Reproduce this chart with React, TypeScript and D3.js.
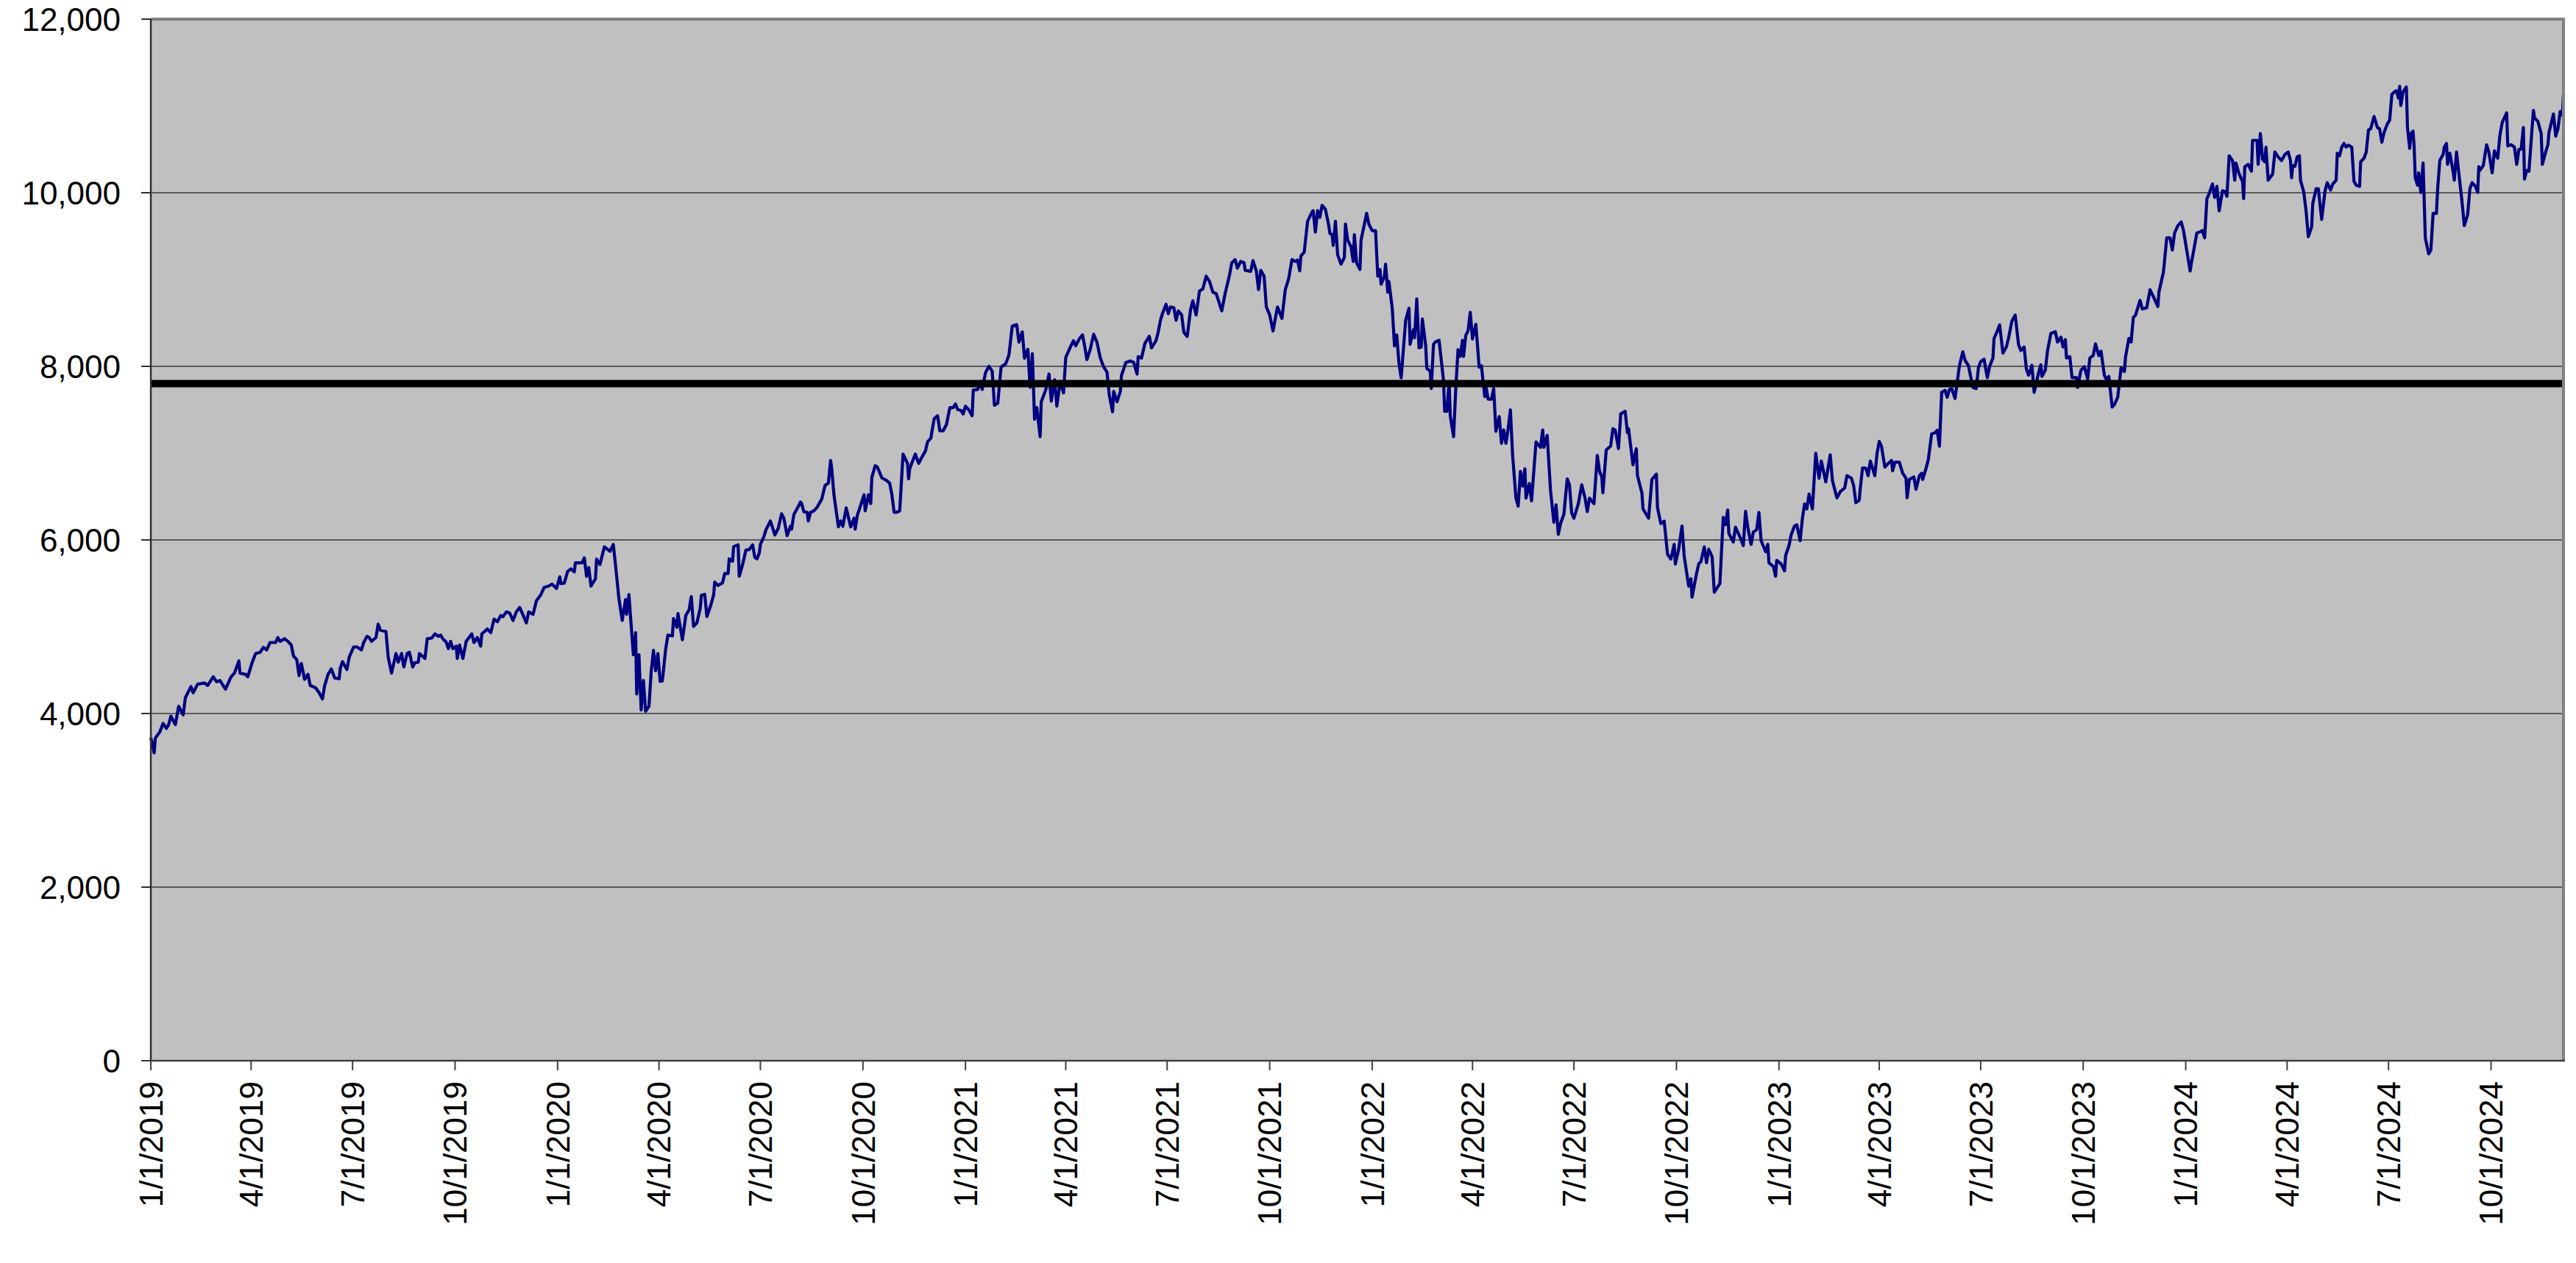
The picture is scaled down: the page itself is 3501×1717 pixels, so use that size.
import { useEffect, useRef } from 'react';
import * as d3 from 'd3';

// x positions are days after 1/1/2019
const startDate = new Date(2019, 0, 1);

const dayOffsets = [
  0, 3, 4, 8, 11, 14, 16, 18, 22, 25, 29, 31, 36, 38, 42, 48, 51, 56, 59, 62, 67, 72, 75, 79, 80, 85, 87, 91, 94, 98,
  101, 104, 107, 112, 114, 116, 120, 123, 126, 128, 131, 133, 135, 138, 141, 143, 148, 151, 154, 156, 159, 162, 165, 169, 170, 172, 176, 178, 182, 185,
  189, 191, 194, 196, 198, 202, 204, 206, 211, 213, 216, 220, 222, 225, 227, 230, 232, 235, 237, 240, 241, 246, 248, 252, 255, 258, 260, 262, 265, 267,
  269, 271, 274, 275, 277, 280, 283, 288, 290, 293, 296, 297, 302, 305, 308, 311, 314, 316, 319, 322, 325, 328, 331, 334, 337, 339, 343, 346, 350, 353,
  357, 360, 364, 367, 368, 371, 374, 377, 380, 381, 387, 389, 391, 393, 395, 399, 400, 403, 407, 412, 415, 417, 420, 423, 426, 427, 429, 433, 435, 436,
  438, 440, 442, 444, 447, 449, 451, 453, 455, 457,
  459, 462, 464, 468, 469, 472, 473, 477, 479, 480, 483, 485, 487, 490, 493, 494, 497, 499, 502, 505, 506, 509, 513, 515, 518, 519, 522, 523, 527, 528,
  531, 534, 537, 540, 542, 544, 546, 547, 550, 552, 556, 560, 563, 566, 568, 571, 574, 575, 577, 581, 583, 584, 586, 589, 590, 592, 595, 598, 602, 605,
  608, 610, 611, 613, 617, 619, 621, 624, 628, 631, 632, 634, 637, 640, 641, 644, 646, 647, 650, 652, 656, 660, 663, 665, 667, 669, 672, 675, 679, 680,
  681, 686, 689, 692, 695, 697, 700, 701, 703, 706, 708, 711, 714, 717, 720, 722, 724, 727, 729, 731, 734, 737, 738, 742, 745, 746, 749, 752, 755, 757,
  760, 763, 767, 770, 773, 777, 779, 782, 784, 787, 789, 791, 793, 795, 798, 799, 803, 806, 808, 811, 813, 816, 819, 821, 826, 828, 830, 833, 836, 838,
  840, 843, 846, 849, 852, 855, 858, 860, 863, 864, 867, 870, 871, 875, 879, 882, 885, 886, 889, 892, 896, 898, 902, 904, 906, 908,
  911, 913, 915, 918, 920, 922, 925, 927, 930, 933, 935, 938, 941, 944, 947, 950, 953, 956, 961, 964, 968, 970, 973, 975, 978, 981, 982, 987, 989, 992,
  994, 996, 999, 1001, 1004, 1007, 1011, 1015, 1018, 1021, 1024, 1027, 1029, 1031, 1032, 1035, 1038, 1042, 1043, 1045, 1047, 1049, 1051, 1054, 1057, 1058, 1060, 1061, 1063, 1065,
  1068, 1071, 1072, 1074, 1077, 1079, 1080, 1082, 1085, 1086, 1089, 1091, 1093, 1096, 1099, 1101, 1103, 1104, 1107, 1108, 1110, 1111, 1114, 1116, 1118, 1120, 1122, 1126, 1129, 1130,
  1133, 1134, 1136, 1138, 1140, 1141, 1144, 1145, 1148, 1149, 1151, 1153, 1156, 1158, 1160, 1161, 1163, 1165, 1166, 1169, 1171, 1173, 1175, 1177, 1178, 1180, 1182, 1184, 1186, 1189,
  1192, 1194, 1197, 1198, 1200, 1203, 1205, 1207, 1210, 1212, 1214, 1216, 1218, 1220, 1222, 1225, 1227, 1229, 1231, 1233, 1234, 1237, 1239, 1243, 1247, 1249, 1250, 1253, 1256, 1259,
  1261, 1263, 1265, 1268, 1271, 1273, 1275, 1277, 1281, 1284, 1287, 1289, 1291, 1295, 1298, 1300, 1302, 1303, 1306, 1310, 1312, 1314, 1317, 1319, 1323, 1325, 1326, 1330, 1333, 1334,
  1338, 1339, 1344, 1347, 1351, 1352, 1355,
  1358, 1361, 1364, 1367, 1368, 1371, 1374, 1376, 1378, 1380, 1382, 1383, 1387, 1389, 1391, 1394, 1396, 1398, 1401, 1403, 1405, 1408, 1411, 1413, 1415, 1416, 1420, 1422, 1426, 1429,
  1431, 1433, 1436, 1438, 1441, 1443, 1445, 1449, 1451, 1452, 1456, 1458, 1459, 1463, 1466, 1467, 1470, 1472, 1475, 1477, 1480, 1482, 1484, 1486, 1488, 1491, 1494, 1497, 1499, 1503,
  1505, 1507, 1509, 1513, 1516, 1520, 1522, 1526, 1528, 1530, 1533, 1534, 1536, 1539, 1541, 1543, 1547, 1549, 1551, 1553, 1556, 1559, 1562, 1563, 1565, 1569, 1572, 1575, 1576, 1578,
  1582, 1584, 1587, 1589, 1590, 1593, 1595, 1598, 1601, 1603, 1605, 1607, 1610, 1612, 1614, 1616, 1619, 1620, 1623, 1626, 1628, 1631, 1633, 1635, 1638, 1640, 1642, 1645, 1648, 1650,
  1653, 1654, 1657, 1659, 1662, 1665, 1667, 1670, 1673, 1676, 1678, 1681, 1683, 1685, 1688, 1690, 1692, 1694, 1696, 1697, 1700, 1702, 1705, 1709, 1711, 1714, 1716, 1718, 1719, 1722,
  1724, 1728, 1729, 1732, 1735, 1738, 1740, 1743, 1745, 1748, 1750, 1753, 1755, 1757, 1760, 1762, 1765, 1768, 1771, 1772, 1775, 1777, 1779, 1781, 1785, 1787, 1791, 1794, 1797, 1801,
  1802, 1806, 1809, 1812, 1814, 1816, 1819, 1822, 1824, 1828, 1830, 1831, 1834, 1836, 1839, 1841, 1843, 1845, 1847, 1850, 1852, 1854, 1856, 1859, 1861, 1863, 1865, 1868, 1870, 1871,
  1874, 1877, 1878, 1879, 1882, 1885, 1886, 1890, 1891, 1893, 1895, 1897, 1898, 1900, 1904, 1906, 1909, 1912, 1915, 1918, 1920, 1921, 1922, 1924, 1926, 1928, 1929, 1932, 1934, 1936,
  1939, 1940, 1943, 1945, 1948, 1951, 1953, 1956, 1958, 1961, 1962, 1964, 1966, 1968, 1970, 1972, 1975, 1977, 1979, 1982, 1983, 1986, 1988, 1990, 1992, 1995, 1998, 2000, 2002, 2004,
  2007, 2009, 2011, 2014, 2015, 2017, 2018, 2019, 2021, 2024, 2025, 2027, 2028, 2030, 2031, 2032, 2034, 2035, 2037, 2039, 2041, 2044, 2046, 2048, 2051, 2052, 2054, 2057, 2058, 2060,
  2061, 2063, 2066, 2067, 2069, 2072, 2074, 2076, 2079, 2081, 2083, 2086, 2088, 2089, 2090, 2093, 2096, 2098, 2101, 2103, 2106, 2108, 2110, 2114, 2115, 2118, 2121, 2123, 2125, 2127,
  2129, 2130, 2132, 2134, 2138, 2139, 2142, 2145, 2146, 2149, 2151, 2152, 2156, 2158, 2160, 2162, 2164, 2165,
];

const indexValues = [
  3720, 3547, 3716, 3787, 3886, 3829, 3872, 3970, 3872, 4083, 3985, 4182, 4310, 4239, 4338, 4352, 4324, 4423, 4366, 4380, 4281, 4423, 4465, 4606, 4465, 4451, 4423, 4592, 4691, 4705,
  4762, 4733, 4818, 4818, 4875, 4832, 4861, 4832, 4790, 4663, 4620, 4437, 4578, 4394, 4451, 4324, 4295, 4239, 4168, 4324, 4451, 4513, 4409, 4400, 4521, 4598, 4507, 4649, 4767, 4767,
  4733, 4818, 4889, 4875, 4832, 4875, 5030, 4960, 4945, 4649, 4465, 4691, 4592, 4691, 4536, 4691, 4705, 4536, 4586, 4592, 4691, 4635, 4861, 4869, 4917, 4889, 4903, 4861, 4824, 4748,
  4832, 4748, 4776, 4635, 4790, 4635, 4832, 4917, 4818, 4875, 4776, 4917, 4974, 4931, 5087, 5058, 5129, 5115, 5171, 5157, 5072, 5171, 5222, 5135, 5044, 5171, 5143, 5299, 5369, 5454,
  5468, 5491, 5440, 5575, 5496, 5502, 5637, 5666, 5632, 5736, 5736, 5793, 5581, 5680, 5468, 5553, 5779, 5717, 5920, 5869, 5948, 5708, 5327, 5072, 5313, 5143, 5369, 4677, 4931, 4225,
  4677, 4041, 4380, 4027, 4084, 4479, 4728, 4493, 4691, 4372,
  4374, 4743, 4904, 4894, 5095, 4994, 5152, 4850, 5028, 5128, 5195, 5346, 5004, 5045, 5212, 5363, 5373, 5118, 5229, 5363, 5514, 5474, 5507, 5614, 5614, 5782, 5755, 5923, 5943, 5581,
  5715, 5883, 5889, 5943, 5799, 5782, 5849, 5950, 6033, 6117, 6218, 6057, 6134, 6302, 6251, 6050, 6157, 6124, 6292, 6385, 6436, 6419, 6325, 6318, 6218, 6318, 6335, 6379, 6469, 6627,
  6654, 6915, 6821, 6520, 6151, 6218, 6157, 6369, 6151, 6251, 6124, 6285, 6402, 6520, 6335, 6520, 6419, 6721, 6855, 6838, 6714, 6687, 6654, 6520, 6318, 6318, 6335, 6989, 6882, 6704,
  6821, 6989, 6882, 6955, 7022, 7130, 7173, 7257, 7398, 7431, 7257, 7257, 7331, 7525, 7525, 7565, 7502, 7492, 7451, 7542, 7498, 7431, 7726, 7733, 7827, 7733, 7927, 8001, 7944, 7552,
  7575, 7994, 8028, 8128, 8464, 8480, 8279, 8397, 8095, 8196, 7760, 8145, 7391, 7525, 7190, 7592, 7726, 7911, 7599, 7844, 7542, 7827, 7693, 8102, 8246, 8296, 8236, 8313, 8363, 8229,
  8078, 8196, 8370, 8279, 8095, 7994, 7934, 7676, 7475, 7710, 7592, 7710, 7894, 8045, 8061, 8045, 7911, 8112, 8095, 8263, 8346, 8212, 8296, 8397, 8531, 8615,
  8715, 8607, 8684, 8675, 8530, 8638, 8592, 8391, 8345, 8653, 8755, 8592, 8869, 8891, 9038, 8977, 8854, 8838, 8638, 8838, 9054, 9193, 9230, 9131, 9208, 9193, 9106, 9094, 9217, 9100,
  8884, 9106, 9038, 8684, 8592, 8407, 8684, 8552, 8884, 9008, 9230, 9208, 9223, 9100, 9270, 9316, 9670, 9778, 9793, 9547, 9793, 9716, 9855, 9809, 9624, 9532, 9516, 9393, 9670, 9285,
  9177, 9254, 9639, 9455, 9377, 9208, 9516, 9193, 9116, 9455, 9639, 9763, 9639, 9562, 9562, 9038, 9116, 8946, 9038, 9177, 8854, 8977, 8669, 8237, 8361, 8037, 7868, 8530, 8669, 8253,
  8422, 8330, 8777, 8213, 8222, 8545, 8237, 7975, 7945, 7744, 8253, 8284, 8299, 8068, 7837, 7482, 7482, 7821, 7436, 7190, 7744, 8191, 8114, 8299, 8114, 8361, 8407, 8622, 8315, 8484,
  7991, 8006, 7652, 7775, 7621, 7621, 7744, 7251, 7421, 7113, 7267, 7113, 7282, 7498, 6974, 6481, 6389, 6789, 6620, 6820, 6481, 6650, 6450, 7128, 7067, 7267, 7067, 7205, 6573, 6204,
  6404, 6065, 6188, 6296, 6703, 6635, 6311, 6250, 6419, 6635, 6481, 6327, 6481, 6419, 6974, 6789, 6728, 6543, 7036, 7082, 7282, 7267, 7051, 7452, 7482, 7236, 7282, 6866, 7051, 6743,
  6543, 6358, 6250, 6697, 6758, 6373, 6188,
  6217, 5836, 5779, 5949, 5723, 5892, 6161, 5807, 5638, 5468, 5553, 5341, 5610, 5723, 5751, 5920, 5737, 5892, 5807, 5398, 5440, 5497, 6259, 6175, 6344, 6076, 5977, 6147, 6033, 5934,
  6330, 6147, 5949, 6090, 6118, 6316, 5991, 5864, 5949, 5737, 5694, 5581, 5765, 5723, 5643, 5822, 5934, 6062, 6161, 6175, 5991, 6245, 6415, 6358, 6528, 6358, 6999, 6711, 6909, 6669,
  6825, 6980, 6683, 6485, 6556, 6598, 6740, 6712, 6627, 6429, 6457, 6598, 6830, 6825, 6740, 6909, 6740, 6994, 7135, 7079, 6839, 6881, 6915, 6796, 6895, 6895, 6768, 6712, 6485, 6697,
  6726, 6584, 6740, 6768, 6697, 6825, 6924, 7220, 7234, 7263, 7079, 7700, 7723, 7644, 7734, 7743, 7630, 7729, 8011, 8167, 8068, 8011, 7884, 7757, 7743, 7983, 8054, 8082, 7870, 7997,
  8096, 8322, 8407, 8478, 8153, 8223, 8322, 8520, 8590, 8251, 8181, 8223, 7969, 7898, 8011, 7700, 7813, 7926, 8017, 7884, 7955, 8181, 8379, 8398, 8280, 8336, 8223, 8308, 8096, 8110,
  7870, 7870, 7757, 7955, 7997, 7856, 8096, 8124, 8260, 8124, 8175, 7898, 7842, 7884, 7531, 7559, 7644, 7983, 7941, 8110, 8322, 8280, 8562, 8590, 8760, 8661, 8675, 8882, 8802, 8689,
  8858, 9084, 9480, 9480, 9339, 9536, 9621, 9663, 9565, 9254, 9098, 9183, 9395, 9536, 9550, 9565, 9480, 9932, 9988, 10101, 9946, 10073, 9791, 10022, 10017, 9960, 10426, 10370, 10144, 10342,
  10214, 10130, 9932, 10299, 10327, 10248, 10604, 10604, 10327, 10681, 10384, 10356, 10525, 10144, 10214, 10469, 10412, 10370, 10441, 10469, 10370, 10172, 10313, 10305, 10412, 10426, 10144, 10003, 9791, 9494,
  9607, 9875, 10045, 10045, 9692, 10017, 10116, 10031, 10101, 10144, 10455, 10426, 10525, 10568, 10525, 10548, 10525, 10130, 10087, 10073, 10356, 10398, 10469, 10723, 10737, 10878, 10751, 10737, 10582, 10695,
  10794, 10836, 11133, 11169, 11175, 11090, 11226, 11006, 11161, 11218, 10751, 10511, 10681, 10709, 10525, 10172, 10087, 10229, 10003, 10342, 9480, 9296, 9339, 9762, 9762, 10031, 10370, 10441, 10525, 10568,
  10327, 10455, 10243, 10144, 10469, 10116, 9889, 9621, 9748, 10045, 10116, 10073, 10003, 10299, 10257, 10313, 10553, 10469, 10229, 10483, 10398, 10667, 10808, 10921, 10539, 10553, 10525, 10327, 10497, 10503,
  10751, 10158, 10257, 10248, 10949, 10864, 10822, 10681, 10327, 10469, 10553, 10695, 10907, 10652, 10737, 10935, 10893, 11147,
];

// flat level drawn across the plot
const referenceLevel = 7800;

const yTickValues = [0, 2000, 4000, 6000, 8000, 10000, 12000];

const xTickLabels = [
  '1/1/2019', '4/1/2019', '7/1/2019', '10/1/2019',
  '1/1/2020', '4/1/2020', '7/1/2020', '10/1/2020',
  '1/1/2021', '4/1/2021', '7/1/2021', '10/1/2021',
  '1/1/2022', '4/1/2022', '7/1/2022', '10/1/2022',
  '1/1/2023', '4/1/2023', '7/1/2023', '10/1/2023',
  '1/1/2024', '4/1/2024', '7/1/2024', '10/1/2024',
];

export default function App() {
  const svgRef = useRef<SVGSVGElement>(null);

  useEffect(() => {
    if (!svgRef.current) return;
    document.body.style.margin = '0';

    const width = 3501;
    const height = 1717;
    const left = 205;
    const right = 3484;
    const top = 26;
    const bottom = 1442;
    const font = '"Liberation Sans", Arial, sans-serif';

    const svg = d3.select(svgRef.current);
    svg.selectAll('*').remove();
    svg.attr('width', width).attr('height', height);

    const points = dayOffsets.map((d, i) => ({
      date: d3.timeDay.offset(startDate, d),
      value: indexValues[i],
    }));

    const x = d3
      .scaleTime()
      .domain([startDate, d3.timeDay.offset(startDate, d3.max(dayOffsets) || 0)])
      .range([left, right]);

    const y = d3.scaleLinear().domain([0, 12000]).range([bottom, top]);

    svg.append('rect').attr('width', width).attr('height', height).attr('fill', '#ffffff');

    // plot area
    svg
      .append('rect')
      .attr('x', left)
      .attr('y', top)
      .attr('width', right - left)
      .attr('height', bottom - top)
      .attr('fill', '#c0c0c0');

    // gridlines
    svg
      .append('g')
      .selectAll('line')
      .data(yTickValues.filter((v) => v > 0 && v < 12000))
      .enter()
      .append('line')
      .attr('x1', left)
      .attr('x2', right)
      .attr('y1', (d) => y(d))
      .attr('y2', (d) => y(d))
      .attr('stroke', '#3a3a3a')
      .attr('stroke-width', 1.6);

    // series
    const line = d3
      .line<{ date: Date; value: number }>()
      .x((d) => x(d.date))
      .y((d) => y(d.value));

    svg
      .append('path')
      .datum(points)
      .attr('d', line)
      .attr('fill', 'none')
      .attr('stroke', '#000080')
      .attr('stroke-width', 4.2)
      .attr('stroke-linejoin', 'round');

    // reference level
    svg
      .append('line')
      .attr('x1', left)
      .attr('x2', right)
      .attr('y1', y(referenceLevel))
      .attr('y2', y(referenceLevel))
      .attr('stroke', '#000000')
      .attr('stroke-width', 10);

    // plot border
    svg
      .append('path')
      .attr('d', `M${left},${top}H${right}V${bottom}`)
      .attr('fill', 'none')
      .attr('stroke', '#808080')
      .attr('stroke-width', 4);

    // axes lines
    svg
      .append('line')
      .attr('x1', left)
      .attr('x2', left)
      .attr('y1', top)
      .attr('y2', bottom)
      .attr('stroke', '#303030')
      .attr('stroke-width', 2.5);
    svg
      .append('line')
      .attr('x1', left)
      .attr('x2', right + 2)
      .attr('y1', bottom)
      .attr('y2', bottom)
      .attr('stroke', '#404040')
      .attr('stroke-width', 2.5);

    // y axis ticks and labels
    const yAxis = svg.append('g');
    yAxis
      .selectAll('line')
      .data(yTickValues)
      .enter()
      .append('line')
      .attr('x1', left - 13)
      .attr('x2', left)
      .attr('y1', (d) => y(d))
      .attr('y2', (d) => y(d))
      .attr('stroke', '#303030')
      .attr('stroke-width', 2);
    yAxis
      .selectAll('text')
      .data(yTickValues)
      .enter()
      .append('text')
      .attr('x', 164)
      .attr('y', (d) => y(d))
      .attr('dy', '0.36em')
      .attr('text-anchor', 'end')
      .attr('font-family', font)
      .attr('font-size', 44)
      .attr('fill', '#000')
      .text((d) => d3.format(',')(d));

    // x axis ticks and labels
    const parse = d3.timeParse('%m/%d/%Y');
    const xTicks = xTickLabels.map((label) => ({ label, date: parse(label) as Date }));
    const xAxis = svg.append('g');
    xAxis
      .selectAll('line')
      .data(xTicks)
      .enter()
      .append('line')
      .attr('x1', (d) => x(d.date))
      .attr('x2', (d) => x(d.date))
      .attr('y1', bottom)
      .attr('y2', bottom + 13)
      .attr('stroke', '#404040')
      .attr('stroke-width', 2);
    xAxis
      .selectAll('text')
      .data(xTicks)
      .enter()
      .append('text')
      .attr('transform', (d) => `translate(${x(d.date)},${bottom + 28}) rotate(-90)`)
      .attr('dy', '0.36em')
      .attr('text-anchor', 'end')
      .attr('font-family', font)
      .attr('font-size', 44)
      .attr('fill', '#000')
      .text((d) => d.label);
  }, []);

  return <svg ref={svgRef} style={{ display: 'block' }} />;
}
